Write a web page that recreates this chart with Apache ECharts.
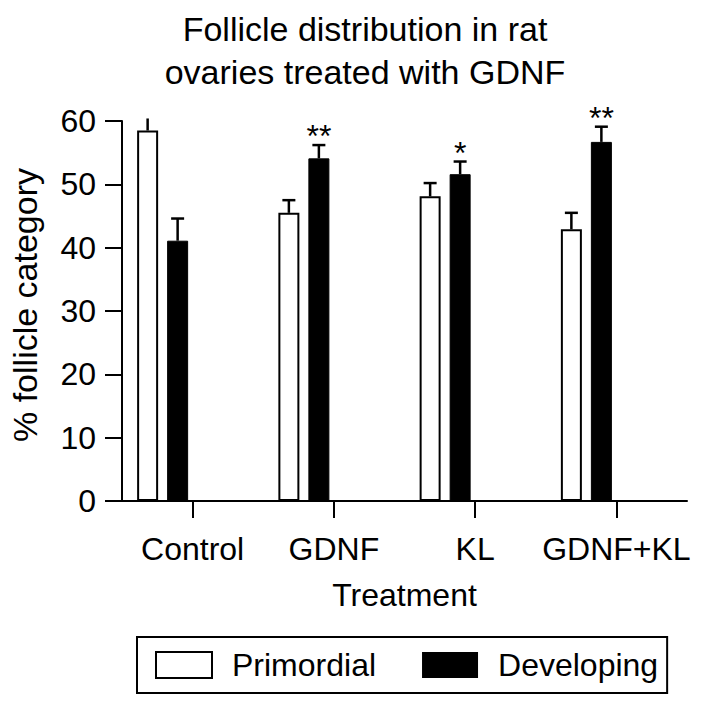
<!DOCTYPE html>
<html>
<head>
<meta charset="utf-8">
<script src="https://cdn.jsdelivr.net/npm/echarts@6/dist/echarts.min.js"></script>
<style>html,body{margin:0;padding:0;background:#fff}#c{width:704px;height:702px}</style>
</head>
<body>
<div id="c"></div>
<script>
const categories = ['Control', 'GDNF', 'KL', 'GDNF+KL'];
const primordial = [58.5, 45.5, 48.1, 42.9];
const primordialErr = [1.9, 2.0, 2.1, 2.6];
const developing = [41.1, 54.1, 51.6, 56.7];
const developingErr = [3.5, 2.1, 2.0, 2.4];
const significance = ['', '**', '*', '**'];
const yTicks = [0, 10, 20, 30, 40, 50, 60];

const FONT = '"Liberation Sans", Arial, Helvetica, sans-serif';
const BAR_W = 21, GAP_PX = 9, NSLOTS = 4;
const groupW = NSLOTS * BAR_W + (NSLOTS - 1) * GAP_PX;
function slotOffset(i) { return -groupW / 2 + BAR_W / 2 + i * (BAR_W + GAP_PX); }
const yMax = yTicks[yTicks.length - 1];

function errRender(slot, errs, sig) {
  return function (params, api) {
    const idx = api.value(0), val = api.value(1), err = errs[idx];
    const base = api.coord([idx, val]);
    const top = api.coord([idx, val + err]);
    const x = base[0] + slotOffset(slot);
    const cap = 6.5;
    const children = [
      { type: 'line', shape: { x1: x, y1: base[1], x2: x, y2: top[1] }, style: { stroke: '#000', lineWidth: 2.5 } }
    ];
    if (val + err <= yMax) {
      children.push({ type: 'line', shape: { x1: x - cap, y1: top[1], x2: x + cap, y2: top[1] }, style: { stroke: '#000', lineWidth: 2.5 } });
    }
    if (sig && sig[idx]) {
      children.push({ type: 'text', x: x, y: top[1] + 7, style: { text: sig[idx], font: '32px ' + FONT, fill: '#000', align: 'center', verticalAlign: 'bottom' } });
    }
    return { type: 'group', children: children };
  };
}

const chart = echarts.init(document.getElementById('c'), null, { renderer: 'svg' });
chart.setOption({
  animation: false,
  backgroundColor: '#fff',
  textStyle: { fontFamily: FONT, color: '#000' },
  title: {
    text: 'Follicle distribution in rat\novaries treated with GDNF',
    left: 365, textAlign: 'center', top: 0, padding: [7, 0, 0, 0],
    textStyle: { fontFamily: FONT, fontSize: 34, fontWeight: 'normal', color: '#000', lineHeight: 43 }
  },
  legend: {
    data: [
      { name: 'Primordial', itemStyle: { color: '#fff', borderColor: '#000', borderWidth: 2 } },
      { name: 'Developing', itemStyle: { color: '#000', borderColor: '#000', borderWidth: 0 } }
    ],
    icon: 'rect', left: 137, top: 637, itemWidth: 56, itemHeight: 26, itemGap: 46,
    padding: [12, 9, 12, 18], borderColor: '#000', borderWidth: 2,
    textStyle: { fontFamily: FONT, fontSize: 32, color: '#000', padding: [0, 0, 0, 15] }
  },
  grid: { left: 120, right: 17, top: 121, bottom: 201, containLabel: false },
  xAxis: {
    type: 'category', data: categories,
    name: 'Treatment', nameLocation: 'middle', nameGap: 78,
    nameTextStyle: { fontFamily: FONT, fontSize: 32, color: '#000' },
    axisLine: { show: true, lineStyle: { color: '#000', width: 2 } },
    axisTick: { show: true, alignWithLabel: true, interval: 0, inside: false, length: 17, lineStyle: { color: '#000', width: 2 } },
    axisLabel: { interval: 0, hideOverlap: false, margin: 32, fontFamily: FONT, fontSize: 32, color: '#000' },
    splitLine: { show: false }
  },
  yAxis: {
    type: 'value', min: yTicks[0], max: yMax, interval: yTicks[1] - yTicks[0],
    name: '% follicle category', nameLocation: 'middle', nameGap: 80, nameRotate: 90,
    nameTextStyle: { fontFamily: FONT, fontSize: 34, color: '#000', padding: [0, 0, 0, 12] },
    axisLine: { show: true, lineStyle: { color: '#000', width: 2 } },
    axisTick: { show: true, length: 17, lineStyle: { color: '#000', width: 2 } },
    axisLabel: { margin: 26, fontFamily: FONT, fontSize: 32, color: '#000' },
    splitLine: { show: false }
  },
  series: [
    { name: 'Primordial', type: 'bar', data: primordial, barWidth: BAR_W, barGap: (GAP_PX / BAR_W * 100) + '%',
      itemStyle: { color: '#fff', borderColor: '#000', borderWidth: 2 } },
    { name: 'Developing', type: 'bar', data: developing, barWidth: BAR_W, barGap: (GAP_PX / BAR_W * 100) + '%',
      itemStyle: { color: '#000', borderColor: '#000', borderWidth: 1 } },
    { name: '_slot3', type: 'bar', data: categories.map(() => '-'), barWidth: BAR_W, barGap: (GAP_PX / BAR_W * 100) + '%' },
    { name: '_slot4', type: 'bar', data: categories.map(() => '-'), barWidth: BAR_W, barGap: (GAP_PX / BAR_W * 100) + '%' },
    { name: 'PrimordialErr', type: 'custom', z: 5, clip: false,
      data: primordial.map((v, i) => [i, v]), renderItem: errRender(0, primordialErr, null) },
    { name: 'DevelopingErr', type: 'custom', z: 5, clip: false,
      data: developing.map((v, i) => [i, v]), renderItem: errRender(1, developingErr, significance) }
  ]
});
</script>
</body>
</html>
